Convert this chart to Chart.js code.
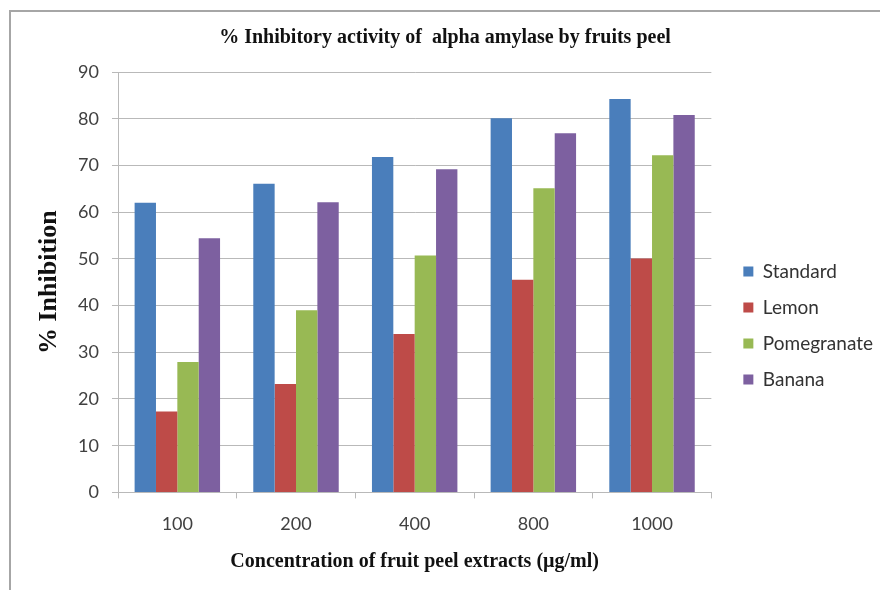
<!DOCTYPE html>
<html>
<head>
<meta charset="utf-8">
<script src="https://cdn.jsdelivr.net/npm/chart.js@4"></script>
<style>
  html, body { margin: 0; padding: 0; background: #ffffff; }
  #wrap { position: relative; width: 880px; height: 590px; }
  #frame { position: absolute; left: 9px; top: 10px; right: -4px; bottom: -4px;
           border-left: 2px solid #a6a6a6; border-top: 2px solid #a6a6a6; }
  canvas { position: absolute; left: 0; top: 0; }
</style>
</head>
<body>
<div id="wrap">
  <div id="frame"></div>
  <canvas id="chart" width="880" height="590"></canvas>
</div>
<script>
// Concentrations of peel extract (µg/ml)
const concentrations = ['100', '200', '400', '800', '1000'];

// % inhibition of alpha amylase for each sample
const standard    = [62.0, 66.1, 71.8, 80.1, 84.2];
const lemon       = [17.3, 23.2, 33.9, 45.5, 50.1];
const pomegranate = [27.9, 39.0, 50.7, 65.1, 72.2];
const banana      = [54.4, 62.1, 69.2, 76.9, 80.8];

const seriesNames = ['Standard', 'Lemon', 'Pomegranate', 'Banana'];
const seriesColors = ['#4a7ebb', '#be4b48', '#98b954', '#7d60a0'];

const yTicks = [0, 10, 20, 30, 40, 50, 60, 70, 80, 90];

const chartTitle = '% Inhibitory activity of  alpha amylase by fruits peel';
const xTitle = 'Concentration of fruit peel extracts (\u00b5g/ml)';
const yTitle = '% Inhibition';

const gridColor = '#b9b9b9';
const tickColor = '#404040';
const sansFont = 'Lato, "Open Sans", sans-serif';
const serifFont = '"Liberation Serif", "DejaVu Serif", serif';

const values = [standard, lemon, pomegranate, banana];

// leaves a blank gutter between the plot area and the legend
const legendGap = {
  id: 'legendGap',
  afterLayout(chart) {
    const lg = chart.legend;
    if (lg) { lg.left += 15; lg.right += 15; }
  }
};

new Chart(document.getElementById('chart'), {
  type: 'bar',
  data: {
    labels: concentrations,
    datasets: seriesNames.map((name, i) => ({
      label: name,
      data: values[i],
      backgroundColor: seriesColors[i],
      borderWidth: 0,
      categoryPercentage: 0.72,
      barPercentage: 1.0
    }))
  },
  plugins: [legendGap],
  options: {
    responsive: false,
    animation: false,
    layout: { padding: { left: 22, right: 12, top: 0, bottom: 0 } },
    plugins: {
      tooltip: { enabled: false },
      title: {
        display: true,
        text: chartTitle,
        color: '#111111',
        font: { family: serifFont, size: 20, weight: 'bold' },
        padding: { top: 26, bottom: 22 }
      },
      legend: {
        position: 'right',
        align: 'center',
        // empty title only pushes the legend rows down a little
        title: { display: true, text: '', font: { size: 1 }, padding: { top: 60, bottom: 0 } },
        labels: {
          boxWidth: 10,
          boxHeight: 10,
          padding: 17,
          color: '#333333',
          font: { family: sansFont, size: 19 }
        }
      }
    },
    scales: {
      x: {
        grid: {
          display: true,
          drawOnChartArea: false,
          drawTicks: true,
          tickLength: 6,
          color: gridColor,
          offset: true
        },
        border: { display: true, color: gridColor, width: 1 },
        ticks: {
          color: tickColor,
          padding: 15,
          font: { family: sansFont, size: 18 }
        },
        title: {
          display: true,
          text: xTitle,
          color: '#111111',
          font: { family: serifFont, size: 20, weight: 'bold' },
          padding: { top: 0, bottom: 16 }
        }
      },
      y: {
        min: 0,
        max: 90,
        afterBuildTicks: (axis) => { axis.ticks = yTicks.map(v => ({ value: v })); },
        afterFit: (axis) => { axis.width = 96; },
        grid: {
          color: gridColor,
          tickLength: 6,
          drawTicks: true
        },
        border: { display: true, color: gridColor, width: 1 },
        ticks: {
          color: tickColor,
          padding: 13,
          font: { family: sansFont, size: 18 }
        },
        title: {
          display: true,
          text: yTitle,
          color: '#111111',
          font: { family: serifFont, size: 26, weight: 'bold' },
          padding: { top: 12, bottom: 0 }
        }
      }
    }
  }
});
</script>
</body>
</html>
